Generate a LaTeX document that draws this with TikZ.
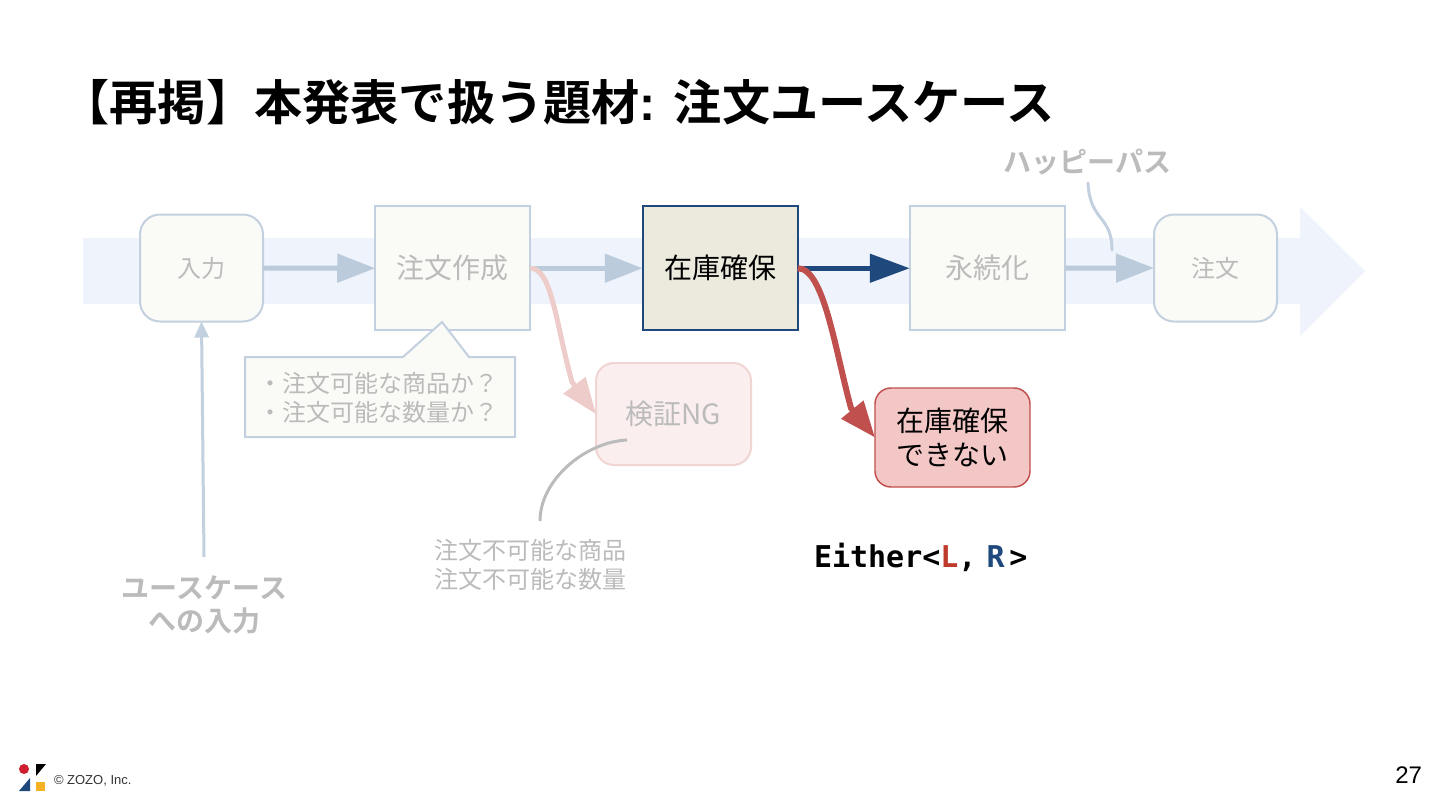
\documentclass[tikz,border=0pt]{standalone}
\usepackage{fontspec}
\setmainfont{Noto Sans CJK JP}[BoldFont={* Bold}]
\newfontfamily\latinf{Liberation Sans}
\newfontfamily\monof{DejaVu Sans Mono}
\usetikzlibrary{arrows.meta}
\newcommand{\fpx}[1]{\fontsize{\dimexpr#1pt*3/4\relax}{\dimexpr#1pt*3/4*6/5\relax}\selectfont}
\definecolor{band}{HTML}{EEF3FC}
\definecolor{pale}{HTML}{FAFBF6}
\definecolor{edgeblue}{HTML}{C3D0E0}
\definecolor{arrowblue}{HTML}{BCCBDB}
\definecolor{ghost}{HTML}{BBBBBB}
\definecolor{navy}{HTML}{1F497D}
\definecolor{redd}{HTML}{C0504D}
\definecolor{lettered}{HTML}{BF3A2B}
\definecolor{redfill}{HTML}{F4C7C7}
\definecolor{ngfill}{HTML}{FAEFEE}
\definecolor{ngedge}{HTML}{F0D5D2}
\definecolor{ngarrow}{HTML}{EECCC9}
\definecolor{khaki}{HTML}{ECE9DD}
\definecolor{logored}{HTML}{D01F2E}
\definecolor{logoyellow}{HTML}{F5B324}
\tikzset{
  x=0.75pt,y=-0.75pt,
  ghostbox/.style={draw=edgeblue,fill=pale,line width=1.5pt,text=ghost,inner sep=0pt,outer sep=0pt,align=center},
  squarebox/.style={ghostbox,minimum width=155*0.75pt,minimum height=124*0.75pt},
  roundbox/.style={ghostbox,rounded corners=15pt,minimum width=123*0.75pt,minimum height=107*0.75pt},
  flow/.style={line width=3.75pt,draw=arrowblue,-{Triangle[length=28.5pt,width=21pt,fill=arrowblue]}},
  txt/.style={inner sep=0pt,outer sep=0pt,align=center},
  ghosttxt/.style={txt,text=ghost},
}
\begin{document}
\begin{tikzpicture}
\useasboundingbox (0,0) rectangle (1440,810);
\fill[white] (0,0) rectangle (1440,810);
% big background arrow
\fill[band] (83,238) -- (1300,238) -- (1300,207) -- (1365,271) -- (1300,336) -- (1300,304) -- (83,304) -- cycle;
% title
\node[txt,anchor=west,font=\fpx{48.2}\bfseries] (title) at (61.5,102) {【再掲】本発表で扱う題材{\latinf: }注文ユースケース};
% nodes
\node[roundbox,font=\fpx{24}] (input) at (201.5,268) {入力};
\node[squarebox,font=\fpx{28}] (create) at (452.75,268.25) {注文作成};
\node[squarebox,draw=navy,fill=khaki,text=black,font=\fpx{28}] (reserve) at (720.25,268.25) {在庫確保};
\node[squarebox,font=\fpx{28}] (persist) at (987.25,268.25) {永続化};
\node[roundbox,font=\fpx{24}] (order) at (1215.5,268) {注文};
\node[draw=ngedge,fill=ngfill,line width=1.5pt,rounded corners=13.5pt,minimum width=155*0.75pt,minimum height=102*0.75pt,text=ghost,inner sep=0pt,outer sep=0pt,font=\fpx{28}] (ng) at (673.5,414) {検証NG};
\node[draw=redd,fill=redfill,line width=1.1pt,rounded corners=12pt,minimum width=155*0.75pt,minimum height=99*0.75pt,text=black,inner sep=0pt,outer sep=0pt,align=center,font=\fpx{28}] (fail) at (952.5,437.5) {在庫確保\\できない};
% callout
\draw[draw=edgeblue,fill=pale,line width=1.5pt,line join=miter] (245,357) -- (403,357) -- (442,322) -- (469,357) -- (515,357) -- (515,437) -- (245,437) -- cycle;
\node[ghosttxt,font=\fpx{24},align=left] (calloutText) at (378,397.5) {・注文可能な商品か？\\・注文可能な数量か？};
% flow arrows
\draw[flow] (input.east) -- (create.west);
\draw[flow] (create.east) -- (reserve.west);
\draw[flow,draw=navy,-{Triangle[length=30pt,width=21pt,fill=navy]}] (reserve.east) -- (persist.west);
\draw[flow] (persist.east) -- (order.west);
% failure arrows
\coordinate (ngBend) at (572,382);
\coordinate (failBend) at (851,408);
\draw[line width=3.75pt,draw=ngarrow,-{Triangle[length=27pt,width=20pt,fill=ngarrow]}] (create.east) .. controls (552,268) and (556,325) .. (ngBend) -- (ng.west);
\draw[line width=4.5pt,draw=redd,-{Triangle[length=27pt,width=20.5pt,fill=redd]}] (reserve.east) .. controls (824,268) and (835,350) .. (failBend) -- (fail.west);
% labels
\node[ghosttxt,font=\fpx{28}\bfseries] (happy) at (1087.5,162) {ハッピーパス};
\coordinate (happyEnd) at (1112,250);
\coordinate (happyStart) at (1088,183);
\draw[line width=2.25pt,draw=edgeblue,line cap=round] (happyStart) .. controls (1090,222) and (1112,215) .. (happyEnd);
\node[ghosttxt,font=\fpx{28}\bfseries] (usein) at (204.5,605) {ユースケース\\への入力};
\coordinate (useinTop) at (204,557);
\draw[line width=2.25pt,draw=edgeblue,-{Triangle[length=12pt,width=10.5pt,fill=edgeblue]}] (useinTop) -- (input.south);
\node[ghosttxt,font=\fpx{24}] (ngnote) at (530,564.5) {注文不可能な商品\\注文不可能な数量};
\coordinate (noteStart) at (540,521);
\coordinate (noteEnd) at (627,440);
\draw[line width=2.25pt,draw=ghost] (noteStart) .. controls (540,480) and (585,442) .. (noteEnd);
\node[txt,anchor=west,font={\monof\fpx{30}\bfseries}] (either) at (814,557) {Either<\textcolor{lettered}{L},\kern-6pt\ \textcolor{navy}{R}\kern3.5pt>};
% footer
\fill[logored] (24,769) circle (5);
\fill[black] (36,764) -- (46,764) -- (36,776) -- cycle;
\fill[navy] (19,791) -- (30,778) -- (30,791) -- cycle;
\fill[logoyellow] (36,782) rectangle (45,791);
\node[txt,anchor=west,font={\latinf\fpx{13}},text=black!80] (copyright) at (54,781) {© ZOZO, Inc.};
\node[txt,anchor=east,font={\latinf\fpx{24}}] (page) at (1422,775) {27};
\end{tikzpicture}
\end{document}
